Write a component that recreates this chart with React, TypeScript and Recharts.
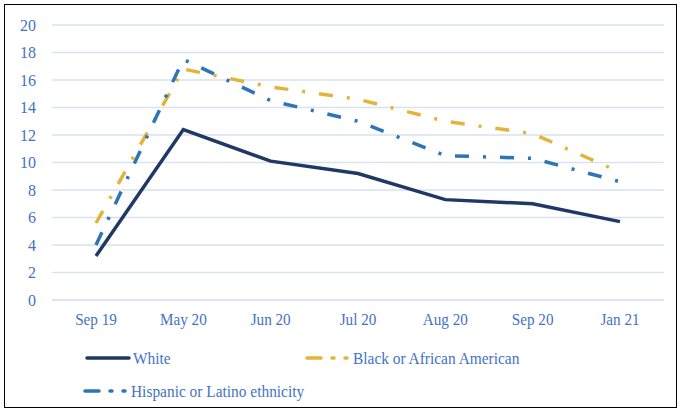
import React from "react";
import { LineChart, Line, XAxis, YAxis, CartesianGrid, Legend } from "recharts";

const months = ["Sep 19", "May 20", "Jun 20", "Jul 20", "Aug 20", "Sep 20", "Jan 21"];
const white = [3.2, 12.4, 10.1, 9.2, 7.3, 7.0, 5.7];
const black = [5.6, 16.8, 15.5, 14.6, 13.0, 12.1, 9.3];
const hispanic = [4.0, 17.5, 14.5, 13.0, 10.5, 10.3, 8.6];
const yTicks = [0, 2, 4, 6, 8, 10, 12, 14, 16, 18, 20];

const data = months.map((m, i) => ({
  month: m,
  white: white[i],
  black: black[i],
  hispanic: hispanic[i],
}));

const FONT = "'Liberation Serif', 'DejaVu Serif', serif";
const TEXT = "#4472c4";
const NAVY = "#1f3864";
const GOLD = "#e3b43a";
const BLUE = "#2e75b6";
const GRID = "#d9e2f3";
const DASH = "14 14 3 14";

const XTick = (props: any) => {
  const { x, y, payload } = props;
  return (
    <text
      x={0}
      y={0}
      dy="0.71em"
      textAnchor="middle"
      fill={TEXT}
      fontFamily={FONT}
      fontSize={16.5}
      transform={`translate(${x},${y}) scale(0.92,1)`}
    >
      {payload.value}
    </text>
  );
};

const DashDotSample = ({ color }: { color: string }) => (
  <svg width={48} height={10} style={{ display: "block" }}>
    <line x1={2} y1={5} x2={16} y2={5} stroke={color} strokeWidth={3.5} strokeLinecap="round" />
    <line x1={27} y1={5} x2={29} y2={5} stroke={color} strokeWidth={3.5} strokeLinecap="round" />
    <line x1={40} y1={5} x2={42} y2={5} stroke={color} strokeWidth={3.5} strokeLinecap="round" />
  </svg>
);

const labelStyle: React.CSSProperties = {
  display: "inline-block",
  transform: "scaleX(0.88)",
  transformOrigin: "left center",
  whiteSpace: "nowrap",
};

const CustomLegend = () => (
  <div style={{ position: "relative", height: 82, fontFamily: FONT, fontSize: 17.5, color: TEXT, lineHeight: "20px" }}>
    <div style={{ position: "absolute", left: 85, top: 18, display: "flex", alignItems: "center" }}>
      <svg width={46} height={10} style={{ display: "block" }}>
        <line x1={2} y1={5} x2={44} y2={5} stroke={NAVY} strokeWidth={3.5} strokeLinecap="round" />
      </svg>
      <span style={{ ...labelStyle, marginLeft: 2 }}>White</span>
    </div>
    <div style={{ position: "absolute", left: 305, top: 18, display: "flex", alignItems: "center" }}>
      <DashDotSample color={GOLD} />
      <span style={labelStyle}>Black or African American</span>
    </div>
    <div style={{ position: "absolute", left: 83, top: 51, display: "flex", alignItems: "center" }}>
      <DashDotSample color={BLUE} />
      <span style={labelStyle}>Hispanic or Latino ethnicity</span>
    </div>
  </div>
);

export default function App() {
  return (
    <div style={{ position: "absolute", left: 0, top: 0, width: 681, height: 412, background: "#fff" }}>
      <div
        style={{
          position: "absolute",
          left: 4,
          top: 4,
          width: 673,
          height: 404,
          border: "1px solid #000",
          boxSizing: "border-box",
        }}
      />
      <LineChart
        width={681}
        height={412}
        data={data}
        margin={{ top: 25, right: 17, left: 0, bottom: 0 }}
      >
        <CartesianGrid vertical={false} stroke={GRID} strokeWidth={1.5} />
        <XAxis
          dataKey="month"
          axisLine={{ stroke: GRID, strokeWidth: 1.5 }}
          tickLine={false}
          tickMargin={7}
          height={30}
          interval={0}
          padding={{ left: 44, right: 44 }}
          tick={<XTick />}
        />
        <YAxis
          domain={[0, 20]}
          ticks={yTicks}
          interval={0}
          axisLine={false}
          tickLine={false}
          tickMargin={10}
          width={52}
          tick={{ fill: TEXT, fontFamily: FONT, fontSize: 16 }}
        />
        <Legend verticalAlign="bottom" height={82} content={() => <CustomLegend />} />
        <Line
          type="linear"
          dataKey="black"
          stroke={GOLD}
          strokeWidth={3.5}
          strokeDasharray={DASH}
          dot={false}
          activeDot={false}
          isAnimationActive={false}
        />
        <Line
          type="linear"
          dataKey="hispanic"
          stroke={BLUE}
          strokeWidth={3.5}
          strokeDasharray={DASH}
          dot={false}
          activeDot={false}
          isAnimationActive={false}
        />
        <Line
          type="linear"
          dataKey="white"
          stroke={NAVY}
          strokeWidth={3.5}
          dot={false}
          activeDot={false}
          isAnimationActive={false}
        />
      </LineChart>
    </div>
  );
}
